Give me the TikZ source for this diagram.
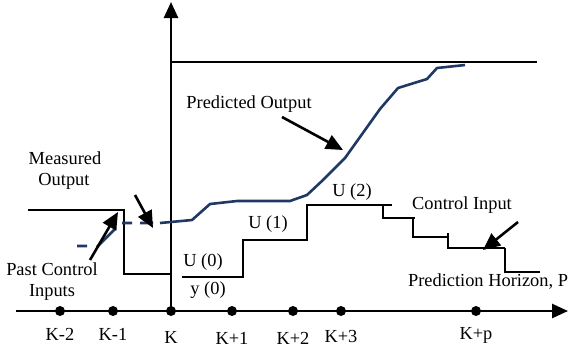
\documentclass[tikz,border=0pt]{standalone}
\usepackage{fontspec}
\setmainfont{Liberation Serif}
\usetikzlibrary{arrows.meta}
\definecolor{navy}{RGB}{31,56,100}
\begin{document}
\begin{tikzpicture}[x=1pt,y=-1pt,
  lbl/.style={font=\fontsize{18.4}{20}\selectfont, inner sep=0pt, anchor=center},
  axisline/.style={line width=2.6pt, -{Triangle[length=16pt,width=14pt]}},
  thin/.style={line width=1.3pt},
  pointer/.style={line width=2.6pt, -{Triangle[length=17pt,width=15pt]}},
  curve/.style={line width=2.6pt, navy, line join=round},
  tick/.style={circle, fill=black, inner sep=0pt, minimum size=10pt}]
\useasboundingbox (0,0) rectangle (569,349);
% axes
\coordinate (xs) at (16,311);
\coordinate (xe) at (568,311);
\coordinate (ys) at (171,311);
\coordinate (ye) at (171,2);
\draw[axisline] (xs) -- (xe);
\draw[axisline] (ys) -- (ye);
% top line
\coordinate (t1) at (171,62);
\coordinate (t2) at (537,62);
\draw[thin] (t1) -- (t2);
% tick dots and labels
\foreach \n/\x/\t/\yy in {km2/60/K-2/334, km1/113/K-1/334, k0/171/K/337, kp1/232/K+1/338, kp2/293/K+2/338, kp3/341/K+3/336, kpp/476/K+p/335}{
  \node[tick] (\n) at (\x,311) {};
  \node[lbl] (l\n) at (\x,\yy) {\t};
}
% past control input
\coordinate (p1) at (28,210);
\coordinate (p2) at (124,210);
\coordinate (p3) at (124,274);
\coordinate (p4) at (171,274);
\draw[thin] (p1) -- (p2) -- (p3) -- (p4);
% future control input
\coordinate (f1) at (182,277);
\coordinate (f2) at (243,277);
\coordinate (f3) at (243,240);
\coordinate (f4) at (307,240);
\coordinate (f5) at (307,205);
\coordinate (f6) at (392,205);
\draw[thin] (f1) -- (f2) -- (f3) -- (f4) -- (f5) -- (f6);
\coordinate (g1) at (383,205);
\coordinate (g2) at (383,218);
\coordinate (g3) at (415,218);
\draw[thin] (g1) -- (g2) -- (g3);
\coordinate (h1) at (413,218);
\coordinate (h2) at (413,237);
\coordinate (h3) at (448,237);
\draw[thin] (h1) -- (h2) -- (h3);
\coordinate (i1) at (448,233);
\coordinate (i2) at (448,248);
\coordinate (i3) at (505,248);
\draw[thin] (i1) -- (i2) -- (i3);
\coordinate (j1) at (505,248);
\coordinate (j2) at (505,272);
\coordinate (j3) at (540,272);
\draw[thin] (j1) -- (j2) -- (j3);
% measured output (dashed)
\coordinate (m1a) at (77,246);
\coordinate (m1b) at (87,246);
\coordinate (m2a) at (97,247);
\coordinate (m2b) at (116,228);
\coordinate (m3a) at (122,223);
\coordinate (m3b) at (132,223);
\coordinate (m4a) at (140,223);
\coordinate (m4b) at (153,223);
\draw[curve] (m1a) -- (m1b) (m2a) -- (m2b) (m3a) -- (m3b) (m4a) -- (m4b);
% predicted output
\coordinate (c0) at (160,223);
\coordinate (c1) at (192,220);
\coordinate (c2) at (210,204);
\coordinate (c3) at (237,201);
\coordinate (c4) at (290,201);
\coordinate (c5) at (307,195);
\coordinate (c6) at (323,180);
\coordinate (c7) at (345,158);
\coordinate (c8) at (380,109);
\coordinate (c9) at (398,88);
\coordinate (c10) at (427,79);
\coordinate (c11) at (437,68);
\coordinate (c12) at (465,65);
\draw[curve] (c0) -- (c1) -- (c2) -- (c3) -- (c4) -- (c5) -- (c6) -- (c7) -- (c8) -- (c9) -- (c10) -- (c11) -- (c12);
% labels
\node[lbl] (measured) at (65,158) {Measured};
\node[lbl] (outputlbl) at (64,181) {Output};
\node[lbl] (past) at (52,269) {Past Control};
\node[lbl] (inputs) at (52,292) {Inputs};
\node[lbl] (pred) at (249,104) {Predicted Output};
\node[lbl] (u0) at (203,262) {U (0)};
\node[lbl] (y0) at (208,290) {y (0)};
\node[lbl] (u1) at (268,224) {U (1)};
\node[lbl] (u2) at (352,192) {U (2)};
\node[lbl] (ctrl) at (462,205) {Control Input};
\node[lbl] (horizon) at (488,282) {Prediction Horizon, P};
% pointer arrows
\coordinate (a1s) at (282,117);
\coordinate (a1e) at (343,150);
\draw[pointer] (a1s) -- (a1e);
\coordinate (a2s) at (135,195);
\coordinate (a2e) at (153,228);
\draw[pointer] (a2s) -- (a2e);
\coordinate (a3s) at (90,260);
\coordinate (a3e) at (118,212);
\draw[pointer] (a3s) -- (a3e);
\coordinate (a4s) at (518,222);
\coordinate (a4e) at (483,250);
\draw[pointer] (a4s) -- (a4e);
\end{tikzpicture}
\end{document}
